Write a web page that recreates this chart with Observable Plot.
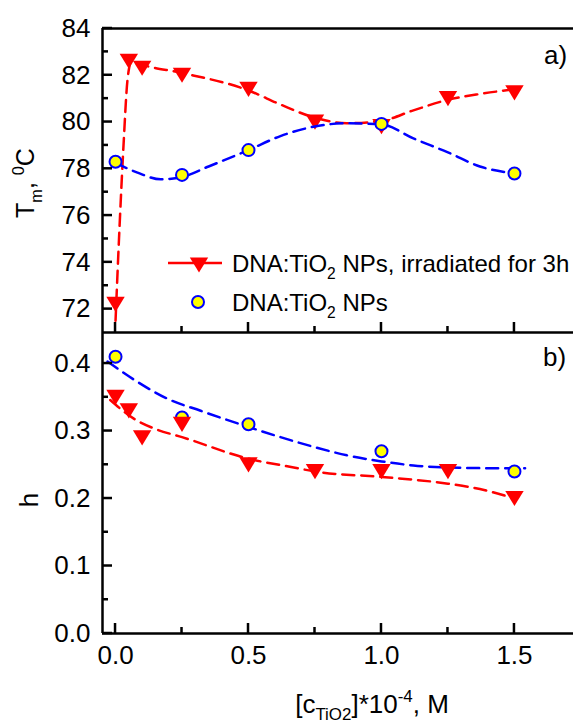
<!DOCTYPE html>
<html><head><meta charset="utf-8">
<script src="https://cdn.jsdelivr.net/npm/d3@7"></script>
<script src="https://cdn.jsdelivr.net/npm/@observablehq/plot@0.6"></script>
<style>
body{margin:0;background:#fff;}
#chart{position:relative;width:573px;height:722px;overflow:hidden;background:#fff;}
#chart svg{position:absolute;left:0;}
</style></head><body><div id="chart"></div>
<script>
// ---------- data ----------
const xTicksMajor = [0, 0.5, 1.0, 1.5];
const xTicksMinor = [0.25, 0.75, 1.25];
const tmTicksMajor = [72, 74, 76, 78, 80, 82, 84];
const tmTicksMinor = [73, 75, 77, 79, 81, 83];
const hTicksMajor = [0, 0.1, 0.2, 0.3, 0.4];
const hTicksMinor = [0.05, 0.15, 0.25, 0.35];

// panel a) melting temperature
const xTmRed = [0, 0.05, 0.1, 0.25, 0.5, 0.75, 1.0, 1.25, 1.5];
const tmRed = [72.2, 82.6, 82.3, 82.0, 81.4, 80.0, 79.8, 81.0, 81.25];
const xTmBlue = [0, 0.25, 0.5, 1.0, 1.5];
const tmBlue = [78.3, 77.74, 78.8, 79.92, 77.8];
// fitted (dashed) curves
const xTmRedFit = [0.0, 0.015, 0.03, 0.045, 0.06, 0.1, 0.25, 0.5, 0.62, 0.745, 0.87, 1.0, 1.12, 1.25, 1.37, 1.5];
const tmRedFit = [71.5, 75.5, 79.0, 81.8, 82.6, 82.45, 82.1, 81.35, 80.75, 80.2, 79.95, 80.05, 80.5, 80.95, 81.2, 81.4];
const xTmBlueFit = [0.0, 0.08, 0.17, 0.25, 0.35, 0.5, 0.62, 0.745, 0.87, 1.0, 1.12, 1.25, 1.37, 1.5];
const tmBlueFit = [78.25, 77.85, 77.55, 77.65, 78.1, 78.8, 79.4, 79.8, 79.95, 79.9, 79.3, 78.7, 78.1, 77.8];

// panel b) hyperchromicity h
const xHRed = [0, 0.05, 0.1, 0.25, 0.5, 0.75, 1.0, 1.25, 1.5];
const hRed = [0.35, 0.33, 0.29, 0.31, 0.25, 0.24, 0.24, 0.24, 0.20];
const xHBlue = [0, 0.25, 0.5, 1.0, 1.5];
const hBlue = [0.41, 0.32, 0.31, 0.27, 0.24];
const xHRedFit = [-0.02, 0.07, 0.15, 0.25, 0.5, 0.67, 0.75, 1.0, 1.25, 1.37, 1.5];
const hRedFit = [0.346, 0.318, 0.303, 0.291, 0.259, 0.246, 0.240, 0.232, 0.222, 0.214, 0.200];
const xHBlueFit = [-0.03, 0.07, 0.2, 0.32, 0.5, 0.62, 0.75, 0.87, 1.0, 1.12, 1.25, 1.4, 1.54];
const hBlueFit = [0.403, 0.376, 0.347, 0.330, 0.306, 0.291, 0.276, 0.264, 0.255, 0.249, 0.246, 0.245, 0.245];

const legendLabels = ["DNA:TiO|2| NPs, irradiated for 3h", "DNA:TiO|2| NPs"];

// ---------- setup ----------
const W = 573;
const ML = 102;
const TOP_H = 333, TOP_MT = 28, TOP_MB = 1;
const BOT_H = 390, BOT_MT = 0, BOT_MB = 89;
const FONT = 'Arial, "Liberation Sans", sans-serif';
const xDomain = [-0.049, 1.722];
const tmDomain = [71, 84];
const hDomain = [0, 0.446];
const RED = "#ff0000", BLUE = "#0000ff", YEL = "#ffff00";
const DASH = "12,7";
const MAJ = 10, MIN = 6;           // tick lengths in px
const triDown = {draw(ctx, size) {
  const r = Math.sqrt(size / Math.PI);
  ctx.moveTo(-1.15 * r, -0.95 * r); ctx.lineTo(1.15 * r, -0.95 * r); ctx.lineTo(0, 0.95 * r); ctx.closePath();
}};
const zip = (xs, ys) => xs.map((x, i) => ({x, y: ys[i]}));
const plotStyle = {fontSize: "26px", fontFamily: FONT, background: "transparent", color: "black", overflow: "visible"};

// ---------- top panel ----------
const topPlot = Plot.plot({
  width: W, height: TOP_H, marginLeft: ML, marginRight: 0, marginTop: TOP_MT, marginBottom: TOP_MB,
  x: {domain: xDomain, axis: null}, y: {domain: tmDomain},
  style: plotStyle,
  marks: [
    Plot.axisY(tmTicksMajor, {tickSize: 0, tickPadding: 12, label: null, tickFormat: d => String(d)}),
    Plot.line(zip(xTmRedFit, tmRedFit), {x: "x", y: "y", stroke: RED, strokeWidth: 2.5, strokeDasharray: DASH, curve: "monotone-x"}),
    Plot.dot(zip(xTmRed, tmRed), {x: "x", y: "y", r: 8, symbol: triDown, fill: RED, stroke: "none"}),
    Plot.line(zip(xTmBlueFit, tmBlueFit), {x: "x", y: "y", stroke: BLUE, strokeWidth: 2.5, strokeDasharray: DASH, curve: "monotone-x"}),
    Plot.dot(zip(xTmBlue, tmBlue), {x: "x", y: "y", r: 6, fill: YEL, stroke: BLUE, strokeWidth: 2}),
    Plot.ruleX([xDomain[0]], {stroke: "black", strokeWidth: 2.5}),
    Plot.ruleY(tmDomain, {stroke: "black", strokeWidth: 2.5}),
  ]
});

// ---------- bottom panel ----------
const bottomPlot = Plot.plot({
  width: W, height: BOT_H, marginLeft: ML, marginRight: 0, marginTop: BOT_MT, marginBottom: BOT_MB,
  x: {domain: xDomain}, y: {domain: hDomain},
  style: plotStyle,
  marks: [
    Plot.axisY(hTicksMajor, {tickSize: 0, tickPadding: 12, label: null, tickFormat: d3.format(".1f")}),
    Plot.axisX(xTicksMajor, {tickSize: 0, tickPadding: 12, label: null, tickFormat: d3.format(".1f")}),
    Plot.line(zip(xHBlueFit, hBlueFit), {x: "x", y: "y", stroke: BLUE, strokeWidth: 2.5, strokeDasharray: DASH, curve: "monotone-x"}),
    Plot.dot(zip(xHBlue, hBlue), {x: "x", y: "y", r: 6, fill: YEL, stroke: BLUE, strokeWidth: 2}),
    Plot.line(zip(xHRedFit, hRedFit), {x: "x", y: "y", stroke: RED, strokeWidth: 2.5, strokeDasharray: DASH, curve: "monotone-x"}),
    Plot.dot(zip(xHRed, hRed), {x: "x", y: "y", r: 8, symbol: triDown, fill: RED, stroke: "none"}),
    Plot.ruleX([xDomain[0]], {stroke: "black", strokeWidth: 2.5}),
    Plot.ruleY([hDomain[0]], {stroke: "black", strokeWidth: 2.5}),
  ]
});

const chart = document.getElementById("chart");
topPlot.style.top = "0px";
bottomPlot.style.top = "332px";
chart.appendChild(topPlot);
chart.appendChild(bottomPlot);

// ---------- inward ticks, positioned with the plots' own scales ----------
function innerTicks(plot, yMaj, yMin) {
  const sx = plot.scale("x"), sy = plot.scale("y");
  const xl = sx.apply(xDomain[0]);
  const yb = sy.apply(sy.domain[0]);
  const g = d3.select(plot).append("g");
  const add = (vals, len, vertical) => vals.forEach(v => {
    const ln = g.append("line").attr("stroke", "black").attr("stroke-width", 2.5);
    if (vertical) { const x = sx.apply(v); ln.attr("x1", x).attr("x2", x).attr("y1", yb).attr("y2", yb - len); }
    else { const y = sy.apply(v); ln.attr("x1", xl).attr("x2", xl + len).attr("y1", y).attr("y2", y); }
  });
  add(yMaj, MAJ, false); add(yMin, MIN, false);
  add(xTicksMajor, MAJ, true); add(xTicksMinor, MIN, true);
}
innerTicks(topPlot, tmTicksMajor, tmTicksMinor);
innerTicks(bottomPlot, hTicksMajor, hTicksMinor);

// ---------- text helpers ----------
function richText(g, x, y, parts, size, opts = {}) {
  const t = g.append("text")
    .attr("transform", `translate(${x},${y})` + (opts.rotate ? ` rotate(${opts.rotate})` : ""))
    .attr("text-anchor", opts.anchor || "start")
    .attr("font-family", FONT).attr("font-size", size).attr("fill", "black")
    .style("white-space", "pre");
  const subOff = opts.subOff ?? 0.3;
  let cur = 0;
  for (const p of parts) {
    const off = p.s === "sub" ? subOff * size : p.s === "sup" ? -0.42 * size : 0;
    t.append("tspan").attr("dy", off - cur).attr("font-size", p.s ? size * 0.65 : size).text(p.t);
    cur = off;
  }
  return t;
}
const parse = s => s.split("|").map((t, i) => ({t, s: i % 2 ? "sub" : null}));

const gt = d3.select(topPlot);
const gb = d3.select(bottomPlot);

// panel letters
richText(gt, 544, 64, [{t: "a)"}], 26);
richText(gb, 543, 34, [{t: "b)"}], 26);

// y titles
richText(gt, 34, 183, [{t: "T"}, {t: "m", s: "sub"}, {t: ", "}, {t: "0", s: "sup"}, {t: "C"}], 25, {rotate: -90, anchor: "middle"});
richText(gb, 38, 168, [{t: "h"}], 26, {rotate: -90, anchor: "middle"});

// x title
richText(gb, 372, 381, [{t: "[c"}, {t: "TiO2", s: "sub"}, {t: "]*10"}, {t: "-4", s: "sup"}, {t: ", M"}], 26, {anchor: "middle", subOff: 0.25});

// legend
const lg = gt.append("g");
lg.append("line").attr("x1", 168).attr("x2", 222).attr("y1", 263).attr("y2", 263).attr("stroke", RED).attr("stroke-width", 2.5);
lg.append("path").attr("transform", "translate(199,265)").attr("fill", RED)
  .attr("d", d3.symbol(triDown, 8 * 8 * Math.PI)());
lg.append("circle").attr("cx", 198).attr("cy", 302).attr("r", 6).attr("fill", YEL).attr("stroke", BLUE).attr("stroke-width", 2);
richText(lg, 232, 272, parse(legendLabels[0]), 24);
richText(lg, 232, 311, parse(legendLabels[1]), 24);
</script></body></html>
